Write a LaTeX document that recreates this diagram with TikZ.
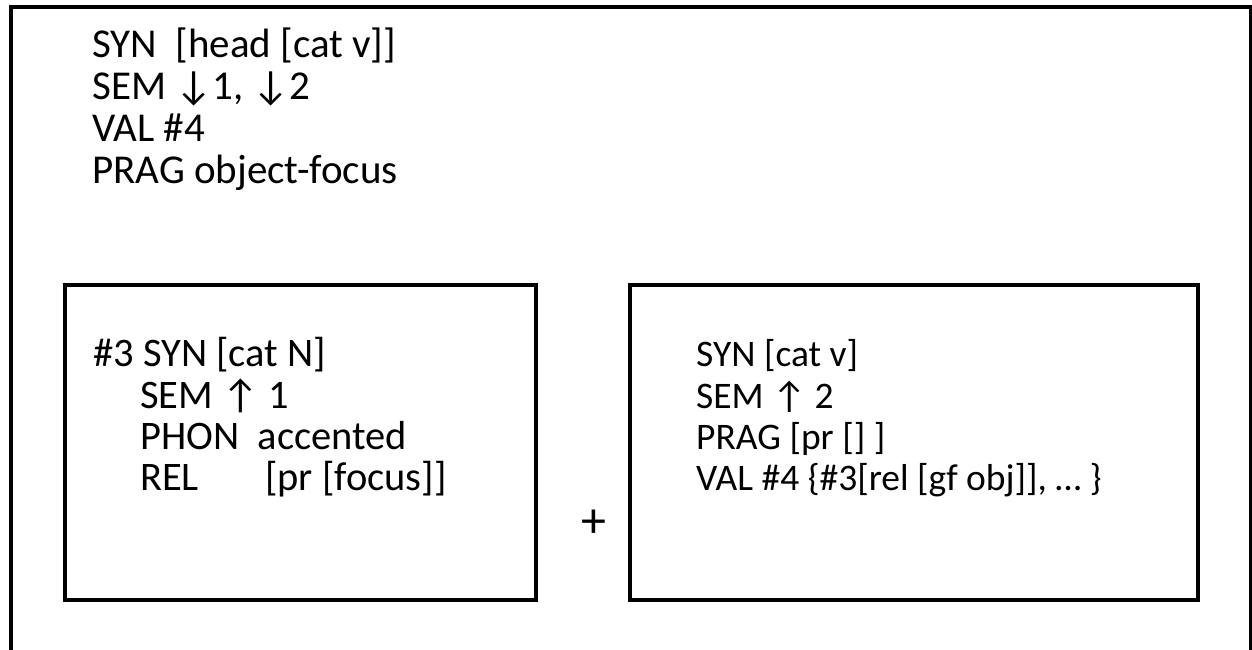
\documentclass[tikz,border=0pt]{standalone}
\usepackage{fontspec}
\setmainfont{Carlito}
\newcommand{\dnarr}{↓}
\newcommand{\uparr}{↑}
\begin{document}
\begin{tikzpicture}[x=1pt,y=-1pt,
  frame/.style={draw=black,line width=3.6pt},
  ttxt/.style={anchor=base west,inner sep=0pt,font=\fontsize{41}{41}\selectfont},
  ltxt/.style={anchor=base west,inner sep=0pt,font=\fontsize{40.5}{40.5}\selectfont},
  rtxt/.style={anchor=base west,inner sep=0pt,font=\fontsize{37.5}{37.5}\selectfont}]
\useasboundingbox (0,0) rectangle (1252,650);
\clip (0,0) rectangle (1252,650);
\fill[white] (0,0) rectangle (1252,650);
% outer frame (bottom edge lies outside the picture)
\draw[frame] (11,7) rectangle (1251,700);
% inner boxes
\draw[frame] (65,285) rectangle (536,600);
\draw[frame] (630,285) rectangle (1198,600);
% top text
\node[ttxt] (t1) at (92,58) {SYN\ \ [head [cat v]]};
\node[ttxt] (t2) at (92,100) {SEM \dnarr1, \dnarr2};
\node[ttxt] (t3) at (92,141) {VAL \#4};
\node[ttxt] (t4) at (92,183) {PRAG object-focus};
% left box text
\node[ltxt] (l1) at (93,366) {\#3 SYN [cat N]};
\node[ltxt] (l2) at (140,408) {SEM \uparr\ 1};
\node[ltxt] (l3) at (140,449) {PHON\ \ accented};
\node[ltxt] (l4) at (140,490) {\makebox[125pt][l]{REL}[pr [focus]]};
% right box text
\node[rtxt] (r1) at (696,366) {SYN [cat v]};
\node[rtxt] (r2) at (696,408) {SEM \uparr\ 2};
\node[rtxt] (r3) at (696,449) {PRAG [pr [] ]};
\node[rtxt] (r4) at (696,490) {VAL \#4 \{\#3[rel [gf obj]], … \}};
% plus sign
\node[inner sep=0pt,font=\fontsize{50}{50}\selectfont] (plus) at (594,524) {+};
\end{tikzpicture}
\end{document}
